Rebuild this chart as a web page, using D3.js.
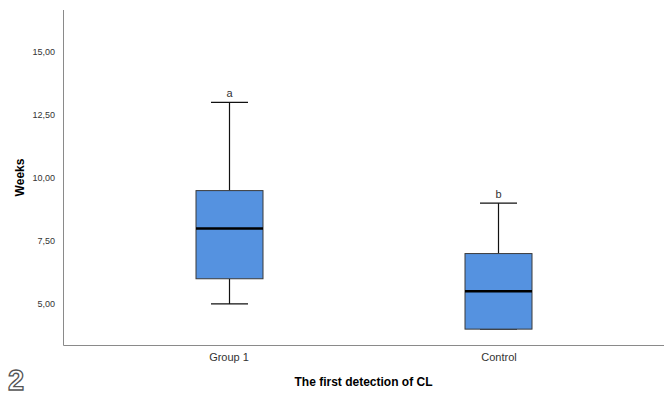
<!DOCTYPE html>
<html><head><meta charset="utf-8">
<script src="https://cdn.jsdelivr.net/npm/d3@7"></script>
<style>body{margin:0;background:#fff}svg{display:block}</style>
</head><body>
<script>
const categories = ["Group 1", "Control"];
const whiskerLow = [5, 4];
const q1 = [6, 4];
const median = [8, 5.5];
const q3 = [9.5, 7];
const whiskerHigh = [13, 9];
const letters = ["a", "b"];
const yTicks = [5, 7.5, 10, 12.5, 15];

(function () {
const W = 671, H = 395;
const svg = d3.select("body").append("svg").attr("width", W).attr("height", H);
const mLeft = 63, mRight = 664, mTop = 10, mBottom = 345;

const y = d3.scaleLinear().domain([3.37, 16.67]).range([mBottom, mTop]);
const x = d3.scalePoint().domain(categories).range([mLeft, mRight]).padding(0.613);

const fmt = d => d.toFixed(2).replace(".", ",");
const FONT = "Arial, 'Liberation Sans', sans-serif";

// axes
const yAxis = svg.append("g").attr("transform", `translate(${mLeft},0)`)
  .call(d3.axisLeft(y).tickValues(yTicks).tickFormat(fmt).tickSize(0).tickPadding(8));
yAxis.select(".domain").remove();
yAxis.selectAll("text").attr("font-family", FONT).attr("font-size", 9).attr("fill", "#333");

const xAxis = svg.append("g").attr("transform", `translate(0,${mBottom})`)
  .call(d3.axisBottom(x).tickSize(0).tickPadding(8));
xAxis.select(".domain").remove();
xAxis.selectAll("text").attr("font-family", FONT).attr("font-size", 11).attr("fill", "#333");

svg.append("path").attr("d", `M${mLeft + 0.5},${mTop}V${mBottom + 0.5}H${mRight}`)
  .attr("fill", "none").attr("stroke", "#8a8a8a").attr("stroke-width", 1);

const boxW = 67, capW = 37;
const g = svg.append("g");
categories.forEach((c, i) => {
  const cx = Math.round(x(c)) + 0.5;
  g.append("line").attr("x1", cx).attr("x2", cx).attr("y1", y(whiskerHigh[i])).attr("y2", y(q3[i]))
    .attr("stroke", "#111").attr("stroke-width", 1.2);
  g.append("line").attr("x1", cx).attr("x2", cx).attr("y1", y(q1[i])).attr("y2", y(whiskerLow[i]))
    .attr("stroke", "#111").attr("stroke-width", 1.2);
  g.append("line").attr("x1", cx - capW / 2).attr("x2", cx + capW / 2).attr("y1", y(whiskerHigh[i])).attr("y2", y(whiskerHigh[i]))
    .attr("stroke", "#111").attr("stroke-width", 1.2);
  g.append("line").attr("x1", cx - capW / 2).attr("x2", cx + capW / 2).attr("y1", y(whiskerLow[i])).attr("y2", y(whiskerLow[i]))
    .attr("stroke", "#111").attr("stroke-width", 1.2);
  g.append("rect").attr("x", cx - boxW / 2).attr("width", boxW)
    .attr("y", y(q3[i])).attr("height", y(q1[i]) - y(q3[i]))
    .attr("fill", "#5592e0").attr("stroke", "#3a3a3a").attr("stroke-width", 1);
  g.append("line").attr("x1", cx - boxW / 2).attr("x2", cx + boxW / 2).attr("y1", y(median[i])).attr("y2", y(median[i]))
    .attr("stroke", "#000").attr("stroke-width", 2.5);
  g.append("text").attr("x", cx).attr("y", y(whiskerHigh[i]) - 5).attr("text-anchor", "middle")
    .attr("font-family", FONT).attr("font-size", 11).attr("fill", "#333")
    .text(letters[i]);
});

svg.append("text").attr("transform", `translate(24,${(mTop + mBottom) / 2}) rotate(-90)`)
  .attr("text-anchor", "middle").attr("font-family", FONT)
  .attr("font-size", 12).attr("font-weight", "bold").attr("fill", "#000").text("Weeks");
svg.append("text").attr("x", (mLeft + mRight) / 2).attr("y", 386)
  .attr("text-anchor", "middle").attr("font-family", FONT)
  .attr("font-size", 12).attr("font-weight", "bold").attr("fill", "#000").text("The first detection of CL");

svg.append("text").attr("x", 8).attr("y", 390)
  .attr("font-family", FONT).attr("font-size", 29).attr("font-weight", "bold")
  .attr("fill", "#fff").attr("stroke", "#555").attr("stroke-width", 1.3).text("2");
})();
</script>
</body></html>
